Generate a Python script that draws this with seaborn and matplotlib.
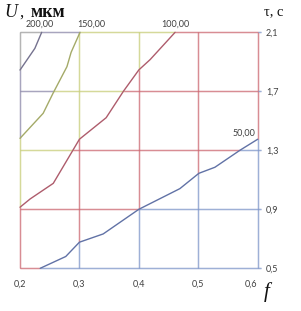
import numpy as np
import pandas as pd
import matplotlib
matplotlib.use("Agg")
import matplotlib.pyplot as plt
import seaborn as sns
from matplotlib.collections import LineCollection

# ---- data ----
levels = [50, 100, 150, 200]
level_labels = ["50,00", "100,00", "150,00", "200,00"]

f50 = [0.234, 0.277, 0.300, 0.340, 0.400, 0.469, 0.501, 0.528, 0.570, 0.600]
t50 = [0.500, 0.580, 0.677, 0.733, 0.900, 1.040, 1.144, 1.185, 1.300, 1.375]

f100 = [0.200, 0.217, 0.256, 0.300, 0.345, 0.374, 0.400, 0.419, 0.444, 0.461]
t100 = [0.914, 0.970, 1.076, 1.375, 1.521, 1.700, 1.845, 1.915, 2.025, 2.100]

f150 = [0.200, 0.239, 0.256, 0.279, 0.286, 0.301]
t150 = [1.381, 1.551, 1.690, 1.867, 1.964, 2.100]

f200 = [0.200, 0.225, 0.2365]
t200 = [1.844, 1.991, 2.100]

x_ticks = [0.2, 0.3, 0.4, 0.5, 0.6]
x_tick_labels = ["0,2", "0,3", "0,4", "0,5", "0,6"]
y_ticks = [0.5, 0.9, 1.3, 1.7, 2.1]
y_tick_labels = ["0,5", "0,9", "1,3", "1,7", "2,1"]

curves_f = [f50, f100, f150, f200]
curves_t = [t50, t100, t150, t200]

# ---- styles ----
curve_colors = ["#6172A6", "#AE5C6C", "#A4AA68", "#75728F"]
band_colors = ["#7F97CA", "#CD6872", "#C8CE7A", "#8D88AA", "#9E9E9E"]
label_offsets = [(-2, 6, "right"), (0, 8, "center"), (11, 8, "center"), (-2, 8, "center")]
text_col = "#404040"

sns.set_style("white")
W, H = 301, 311
fig = plt.figure(figsize=(W / 100, H / 100), dpi=100)
x0, x1 = 20.0, 257.7
y_top, y_bot = 32.3, 268.3
ax = fig.add_axes([x0 / W, 1 - y_bot / H, (x1 - x0) / W, (y_bot - y_top) / H])
ax.set_xlim(x_ticks[0], x_ticks[-1])
ax.set_ylim(y_ticks[0], y_ticks[-1])


def band(fv, tv):
    b = np.zeros_like(fv, dtype=int)
    for cf, ct in zip(curves_f, curves_t):
        ctau = np.interp(fv, cf, ct, left=-np.inf, right=np.inf)
        b += (tv > ctau).astype(int)
    return b


def grid_collection(fv, tv):
    pts = np.column_stack([fv, tv])
    segs = np.stack([pts[:-1], pts[1:]], axis=1)
    mid = 0.5 * (pts[:-1] + pts[1:])
    b = band(mid[:, 0], mid[:, 1])
    cols = [band_colors[i] for i in b]
    return LineCollection(segs, colors=cols, linewidths=1.0, zorder=1,
                          clip_on=False, capstyle="butt")


ext = 0.006
for xv in x_ticks:
    tv = np.linspace(y_ticks[0], y_ticks[-1], 600)
    ax.add_collection(grid_collection(np.full_like(tv, xv), tv))
for yv in y_ticks:
    fv = np.linspace(x_ticks[0], x_ticks[-1] + ext, 600)
    ax.add_collection(grid_collection(fv, np.full_like(fv, yv)))

rows = []
for lev, cf, ct in zip(levels, curves_f, curves_t):
    for a, b in zip(cf, ct):
        rows.append({"f": a, "tau": b, "level": str(lev)})
df = pd.DataFrame(rows)
sns.lineplot(data=df, x="f", y="tau", hue="level", palette=curve_colors,
             sort=False, estimator=None, legend=False, linewidth=1.0, ax=ax,
             zorder=3)
for ln in ax.lines:
    ln.set_clip_on(False)

for lab, cf, ct, (dx, dy, ha) in zip(level_labels, curves_f, curves_t, label_offsets):
    ax.annotate(lab, (cf[-1], ct[-1]), xytext=(dx, dy), textcoords="offset pixels",
                ha=ha, va="center", fontsize=6.5, color=text_col, family="Lato")

for s in ax.spines.values():
    s.set_visible(False)
ax.set_xlabel("")
ax.set_ylabel("")
ax.set_xticks(x_ticks, x_tick_labels)
ax.yaxis.tick_right()
ax.set_yticks(y_ticks, y_tick_labels)
ax.tick_params(axis="x", length=0, pad=8, labelsize=6.5, labelcolor=text_col)
ax.tick_params(axis="y", length=0, pad=6, labelsize=6.5, labelcolor=text_col)
for lbl in ax.get_xticklabels():
    lbl.set_family("Lato")
for lbl in ax.get_yticklabels():
    lbl.set_family("Lato")
ax.get_xticklabels()[-1].set_horizontalalignment("right")


def ftext(px, py, s, **kw):
    fig.text(px / W, 1 - py / H, s, **kw)


serif = "Liberation Serif"
ftext(4, 16.7, "U", family=serif, style="italic", fontsize=13, va="baseline", color="#111111")
ftext(19.5, 16.7, ",", family=serif, fontsize=12, va="baseline", color="#111111")
ftext(31, 16.7, "мкм", family=serif, weight="bold", fontsize=13, va="baseline", color="#111111")
ftext(264.5, 15, "τ, с", family=serif, fontsize=10.5, va="baseline", color="#111111")
ftext(267, 297, "f", family=serif, style="italic", fontsize=15, va="baseline", ha="center", color="#111111")

fig.savefig("out.png", dpi=100)
